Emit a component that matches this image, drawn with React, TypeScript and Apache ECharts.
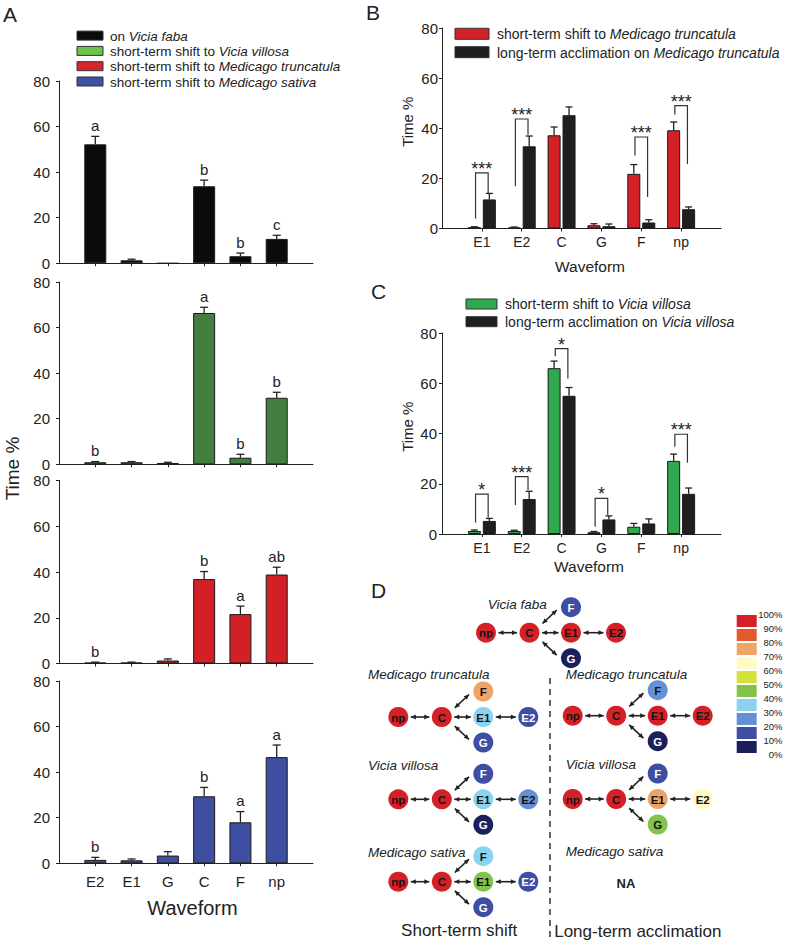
import React, { useEffect, useRef } from 'react';
import * as echarts from 'echarts';

const FONT = '"Liberation Sans", Arial, Helvetica, sans-serif';
const INK = '#222222';

// ---------- Panel A ----------
const aCategories = ['E2', 'E1', 'G', 'C', 'F', 'np'];
const aFabaMean = [52.2, 1.3, 0, 33.8, 3.1, 10.7];
const aFabaErr = [3.5, 0.5, 0, 2.7, 1.4, 1.6];
const aFabaLetters = ['a', '', '', 'b', 'b', 'c'];
const aVillosaMean = [0.9, 0.9, 0.6, 66.4, 2.9, 29.2];
const aVillosaErr = [0.3, 0.3, 0.3, 2.5, 1.5, 2.4];
const aVillosaLetters = ['b', '', '', 'a', 'b', 'b'];
const aTruncMean = [0.4, 0.4, 1.3, 36.9, 21.6, 38.9];
const aTruncErr = [0.2, 0.2, 0.7, 3.3, 3.5, 3.2];
const aTruncLetters = ['b', '', '', 'b', 'a', 'ab'];
const aSativaMean = [1.5, 1.3, 3.4, 29.4, 18.0, 46.6];
const aSativaErr = [1.1, 0.6, 1.7, 3.9, 4.7, 5.3];
const aSativaLetters = ['b', '', '', 'b', 'a', 'a'];
const aLegendPlain = ['on ', 'short-term shift to ', 'short-term shift to ', 'short-term shift to '];
const aLegendItalic = ['Vicia faba', 'Vicia villosa', 'Medicago truncatula', 'Medicago sativa'];

// ---------- Panels B and C ----------
const bcCategories = ['E1', 'E2', 'C', 'G', 'F', 'np'];
const bShortMean = [0.5, 0.4, 37.2, 1.3, 21.8, 39.2];
const bShortErr = [0.2, 0.2, 3.3, 0.6, 3.7, 3.3];
const bLongMean = [11.6, 32.8, 45.2, 0.9, 2.4, 7.7];
const bLongErr = [2.4, 4.1, 3.3, 0.9, 1.1, 0.9];
// [category index, bracket top, left leg bottom, right leg bottom, label]
const bBrackets: any[] = [
  [0, 22.2, 4.0, 14.0, '***'],
  [1, 43.7, 16.9, 37.4, '***'],
  [4, 36.5, 29.1, 12.6, '***'],
  [5, 49.0, 45.5, 25.7, '***'],
];
const cShortMean = [1.2, 1.2, 66.0, 0.7, 2.9, 29.1];
const cShortErr = [0.4, 0.3, 2.8, 0.3, 1.3, 2.7];
const cLongMean = [5.2, 13.9, 55.0, 5.8, 4.2, 16.0];
const cLongErr = [1.0, 3.1, 3.3, 1.4, 1.8, 2.3];
const cBrackets: any[] = [
  [0, 15.9, 4.6, 6.5, '*'],
  [1, 22.8, 11.5, 17.5, '***'],
  [2, 73.8, 70.7, 61.9, '*'],
  [3, 14.2, 2.9, 7.6, '*'],
  [5, 39.7, 34.7, 28.4, '***'],
];
const yTicks = [0, 80, 20]; // min, max, interval

// ---------- Panel D ----------
const dNodes = ['np', 'C', 'E1', 'E2', 'F', 'G'];
const dFaba = [95, 95, 95, 95, 15, 5];
const dTruncShort = [95, 95, 35, 15, 75, 15];
const dTruncLong = [95, 95, 95, 95, 25, 5];
const dVillosaShort = [95, 95, 35, 25, 15, 5];
const dVillosaLong = [95, 95, 75, 65, 15, 45];
const dSativaShort = [95, 95, 45, 15, 35, 15];
const scaleLabels = ['100%', '90%', '80%', '70%', '60%', '50%', '40%', '30%', '20%', '10%', '0%'];
const scaleColors = ['#1b1f5c', '#3e4ea3', '#6690d4', '#8bd4f1', '#84c34a', '#d5e23d', '#fffcc3', '#efa467', '#e05a2b', '#d42027'];

const pad = (arr: any[]) => [null, ...arr, null];
const padCats = (cats: string[]) => ['_s', ...cats, '_e'];

function xAxisCfg(gridIndex: number, cats: string[], showLabels: boolean, fontSize: number, margin: number) {
  return {
    type: 'category', gridIndex, data: padCats(cats), boundaryGap: false,
    axisLine: { show: true, lineStyle: { color: INK, width: 1 } },
    axisTick: { show: true, length: 3, interval: (i: number) => i > 0 && i < cats.length + 1, lineStyle: { color: INK } },
    axisLabel: {
      show: showLabels, interval: 0, fontSize, fontFamily: FONT, color: INK, margin,
      formatter: (v: string) => (v.charAt(0) === '_' ? '' : v),
    },
    splitLine: { show: false },
  };
}
function yAxisCfg(gridIndex: number, fontSize: number, margin: number) {
  return {
    type: 'value', gridIndex, min: yTicks[0], max: yTicks[1], interval: yTicks[2],
    axisLine: { show: true, lineStyle: { color: INK, width: 1 } },
    axisTick: { show: true, length: 3, lineStyle: { color: INK } },
    axisLabel: { fontSize, fontFamily: FONT, color: INK, margin },
    splitLine: { show: false },
  };
}
function barSeries(idx: number, means: number[], color: string, width: number, gap?: string) {
  return {
    type: 'bar', xAxisIndex: idx, yAxisIndex: idx, data: pad(means), barWidth: width,
    barGap: gap || '30%', itemStyle: { color, borderColor: '#1a1a1a', borderWidth: 1 }, z: 2, silent: true,
  };
}
function errSeries(idx: number, means: number[], errs: number[], letters: string[] | null, offset: number, capHalf: number) {
  return {
    type: 'custom', xAxisIndex: idx, yAxisIndex: idx, silent: true, z: 5, clip: false,
    data: means.map((m, i) => [i + 1, m + errs[i]]),
    renderItem: (params: any, api: any) => {
      const i = params.dataIndex;
      const base = api.coord([i + 1, means[i]]);
      const top = api.coord([i + 1, means[i] + errs[i]]);
      const x = base[0] + offset;
      const children: any[] = [];
      if (errs[i] > 0) {
        children.push({ type: 'line', shape: { x1: x, y1: base[1], x2: x, y2: top[1] }, style: { stroke: INK, lineWidth: 1.3, fill: 'none' } });
        children.push({ type: 'line', shape: { x1: x - capHalf, y1: top[1], x2: x + capHalf, y2: top[1] }, style: { stroke: INK, lineWidth: 1.3, fill: 'none' } });
      }
      if (letters && letters[i]) {
        children.push({
          type: 'text', x, y: top[1] - 3.5,
          style: { text: letters[i], fontSize: 15, fontFamily: FONT, fill: INK, align: 'center', verticalAlign: 'bottom' },
        });
      }
      return { type: 'group', children };
    },
  };
}
function bracketSeries(idx: number, brackets: any[], offset: number) {
  return {
    type: 'custom', xAxisIndex: idx, yAxisIndex: idx, silent: true, z: 6, clip: false,
    data: brackets.map((b) => [b[0] + 1, b[1]]),
    renderItem: (params: any, api: any) => {
      const b = brackets[params.dataIndex];
      const t = api.coord([b[0] + 1, b[1]]);
      const yL = api.coord([b[0] + 1, b[2]])[1];
      const yR = api.coord([b[0] + 1, b[3]])[1];
      const xL = t[0] - offset;
      const xR = t[0] + offset;
      return {
        type: 'group',
        children: [
          { type: 'polyline', shape: { points: [[xL, yL], [xL, t[1]], [xR, t[1]], [xR, yR]] }, style: { stroke: '#333', lineWidth: 1.2, fill: 'none' } },
          { type: 'text', x: t[0], y: t[1] - 4, style: { text: b[4], fontSize: 18, fontFamily: FONT, fill: INK, align: 'center', verticalAlign: 'middle' } },
        ],
      };
    },
  };
}

function txt(x: number, y: number, text: string, fontSize: number, extra: any = {}) {
  return {
    type: 'text', x, y, silent: true, rotation: extra.rotation || 0,
    style: {
      text, fontSize, fontFamily: FONT, fill: INK,
      align: extra.align || 'center', verticalAlign: extra.verticalAlign || 'middle',
      fontStyle: extra.fontStyle || 'normal', fontWeight: extra.fontWeight || 'normal',
      lineHeight: extra.lineHeight,
    },
  };
}
function richLegend(x: number, y: number, plain: string, italic: string, fs: number, lh: number) {
  return {
    type: 'text', x, y, silent: true,
    style: {
      text: `{n|${plain}}{i|${italic}}`,
      rich: {
        n: { fontSize: fs, fontFamily: FONT, fill: INK, lineHeight: lh },
        i: { fontSize: fs, fontFamily: FONT, fill: INK, fontStyle: 'italic', lineHeight: lh },
      },
      lineHeight: lh,
      align: 'left', verticalAlign: 'middle',
    },
  };
}
function swatch(x: number, y: number, w: number, h: number, fill: string) {
  return { type: 'rect', silent: true, shape: { x, y, width: w, height: h }, style: { fill, stroke: '#333', lineWidth: 1 } };
}
function arrowEls(x1: number, y1: number, x2: number, y2: number) {
  const dx = x2 - x1, dy = y2 - y1;
  const len = Math.hypot(dx, dy);
  const ux = dx / len, uy = dy / len;
  const nx = -uy, ny = ux;
  const L = 5, W = 2.4;
  const head = (tx: number, ty: number, sx: number, sy: number) => ({
    type: 'polygon', silent: true,
    shape: { points: [[tx, ty], [tx - sx * L + nx * W, ty - sy * L + ny * W], [tx - sx * L - nx * W, ty - sy * L - ny * W]] },
    style: { fill: INK },
  });
  return [
    { type: 'line', silent: true, shape: { x1, y1, x2, y2 }, style: { stroke: INK, lineWidth: 1.6 } },
    head(x2, y2, ux, uy),
    head(x1, y1, -ux, -uy),
  ];
}
const NODE_OFF: Record<string, number[]> = { np: [0, 0], C: [43.5, 0], E1: [85, 0], E2: [130, 0], F: [85, -25.5], G: [85, 25.5] };
function diagram(ox: number, oy: number, levels: number[]) {
  const els: any[] = [];
  const h = (a: number, b: number) => arrowEls(ox + a + 12.5, oy, ox + b - 12.5, oy);
  els.push(...h(0, 43.5), ...h(43.5, 85), ...h(85, 130));
  els.push(...arrowEls(ox + 85 - 28.5, oy - 9.2, ox + 85 - 14.3, oy - 22.5));
  els.push(...arrowEls(ox + 85 - 28.5, oy + 9.2, ox + 85 - 14.3, oy + 22.5));
  dNodes.forEach((n, i) => {
    const bin = Math.min(9, Math.floor(levels[i] / 10));
    const [dx, dy] = NODE_OFF[n];
    els.push({ type: 'circle', silent: true, shape: { cx: ox + dx, cy: oy + dy, r: 10 }, style: { fill: scaleColors[bin] } });
    els.push({
      type: 'text', silent: true, x: ox + dx, y: oy + dy + 0.5,
      style: { text: n, fontSize: 11.5, fontWeight: 'bold', fontFamily: FONT, fill: bin <= 1 ? '#ffffff' : '#141414', align: 'center', verticalAlign: 'middle' },
    });
  });
  return els;
}

function buildOption() {
  const grids = [
    { left: 59, top: 81, width: 254, height: 182.3 },
    { left: 59, top: 282, width: 254, height: 182.3 },
    { left: 59, top: 480.5, width: 254, height: 183 },
    { left: 59, top: 681, width: 254, height: 182.3 },
    { left: 442, top: 28, width: 279, height: 200.5 },
    { left: 442, top: 333, width: 279, height: 201 },
  ].map((g) => ({ ...g, containLabel: false, outerBoundsMode: 'none' }));

  const xAxes = [
    xAxisCfg(0, aCategories, false, 15, 11),
    xAxisCfg(1, aCategories, false, 15, 11),
    xAxisCfg(2, aCategories, false, 15, 11),
    xAxisCfg(3, aCategories, true, 15, 11),
    xAxisCfg(4, bcCategories, true, 14, 6),
    xAxisCfg(5, bcCategories, true, 14, 7),
  ];
  const yAxes = [
    yAxisCfg(0, 15, 9), yAxisCfg(1, 15, 9), yAxisCfg(2, 15, 9), yAxisCfg(3, 15, 9),
    yAxisCfg(4, 15, 4), yAxisCfg(5, 15, 5),
  ];

  const aPanels = [
    { means: aFabaMean, errs: aFabaErr, letters: aFabaLetters, color: '#0b0b0b' },
    { means: aVillosaMean, errs: aVillosaErr, letters: aVillosaLetters, color: '#437d40' },
    { means: aTruncMean, errs: aTruncErr, letters: aTruncLetters, color: '#d32027' },
    { means: aSativaMean, errs: aSativaErr, letters: aSativaLetters, color: '#3e4ea0' },
  ];
  const series: any[] = [];
  aPanels.forEach((p, k) => {
    series.push(barSeries(k, p.means, p.color, 22));
    series.push(errSeries(k, p.means, p.errs, p.letters, 0, 4));
  });
  const OFF = 7.475;
  series.push(barSeries(4, bShortMean, '#d42027', 13, '15%'));
  series.push(barSeries(4, bLongMean, '#1f1f1f', 13, '15%'));
  series.push(errSeries(4, bShortMean, bShortErr, null, -OFF, 3.5));
  series.push(errSeries(4, bLongMean, bLongErr, null, OFF, 3.5));
  series.push(bracketSeries(4, bBrackets, 6.3));
  series.push(barSeries(5, cShortMean, '#2fa84f', 13, '15%'));
  series.push(barSeries(5, cLongMean, '#1f1f1f', 13, '15%'));
  series.push(errSeries(5, cShortMean, cShortErr, null, -OFF, 3.5));
  series.push(errSeries(5, cLongMean, cLongErr, null, OFF, 3.5));
  series.push(bracketSeries(5, cBrackets, 6.3));

  const g: any[] = [];
  // panel letters
  g.push(txt(3, 4, 'A', 21, { align: 'left', verticalAlign: 'top' }));
  g.push(txt(366, 2, 'B', 21, { align: 'left', verticalAlign: 'top' }));
  g.push(txt(371, 280.5, 'C', 21, { align: 'left', verticalAlign: 'top' }));
  g.push(txt(371, 580, 'D', 21, { align: 'left', verticalAlign: 'top' }));

  // A legend
  const aSw = ['#0b0b0b', '#6cc24a', '#d8232a', '#3f51a3'];
  const aRows = [35.6, 50.9, 66.2, 81.5];
  aRows.forEach((y, i) => {
    g.push(swatch(77, y - 4.5, 26, 9, aSw[i]));
    g.push(richLegend(110, y + 0.5, aLegendPlain[i], aLegendItalic[i], 13.5, 13));
  });
  // A axis titles
  g.push(txt(12.5, 468.5, 'Time %', 19, { rotation: Math.PI / 2 }));
  g.push(txt(192.5, 907.5, 'Waveform', 20));

  // B legend and titles
  g.push(swatch(455, 28.3, 34, 11, '#d42027'));
  g.push(richLegend(497, 34, 'short-term shift to ', 'Medicago truncatula', 14, 15));
  g.push(swatch(455, 46.7, 34, 11, '#1f1f1f'));
  g.push(richLegend(497, 52.5, 'long-term acclimation on ', 'Medicago truncatula', 14, 15));
  g.push(txt(407.5, 121.7, 'Time %', 15, { rotation: Math.PI / 2 }));
  g.push(txt(590, 266.7, 'Waveform', 15.5));

  // C legend and titles
  g.push(swatch(466, 299, 31, 10, '#2fa84f'));
  g.push(richLegend(505, 304.3, 'short-term shift to ', 'Vicia villosa', 14, 15));
  g.push(swatch(466, 316.7, 31, 10, '#1f1f1f'));
  g.push(richLegend(505, 321.8, 'long-term acclimation on ', 'Vicia villosa', 14, 15));
  g.push(txt(407.5, 426.7, 'Time %', 15, { rotation: Math.PI / 2 }));
  g.push(txt(589, 566.5, 'Waveform', 15.5));

  // D diagram
  const it = { align: 'left', fontStyle: 'italic' };
  g.push(txt(487.7, 604, 'Vicia faba', 13.5, it));
  g.push(...diagram(486, 632.7, dFaba));
  g.push(txt(368, 674.5, 'Medicago truncatula', 13.5, it));
  g.push(...diagram(398.3, 717, dTruncShort));
  g.push(txt(368, 765, 'Vicia villosa', 13.5, it));
  g.push(...diagram(398.3, 799.3, dVillosaShort));
  g.push(txt(368, 852, 'Medicago sativa', 13.5, it));
  g.push(...diagram(398.3, 881.7, dSativaShort));
  g.push(txt(565.7, 674.5, 'Medicago truncatula', 13.5, it));
  g.push(...diagram(572.7, 715.7, dTruncLong));
  g.push(txt(565.7, 764, 'Vicia villosa', 13.5, it));
  g.push(...diagram(572.7, 799, dVillosaLong));
  g.push(txt(565.7, 851, 'Medicago sativa', 13.5, it));
  g.push(txt(626, 883, 'NA', 13, { fontWeight: 'bold' }));
  g.push({ type: 'line', silent: true, shape: { x1: 550, y1: 678, x2: 550, y2: 941 }, style: { stroke: '#333', lineWidth: 1.5, lineDash: [6, 5] } });
  g.push(txt(459.2, 930, 'Short-term shift', 17));
  g.push(txt(637.8, 931, 'Long-term acclimation', 17));

  // colour scale
  for (let i = 0; i < 10; i++) {
    g.push({ type: 'rect', silent: true, shape: { x: 736.7, y: 615 + 14 * i, width: 20, height: 12 }, style: { fill: scaleColors[9 - i] } });
  }
  scaleLabels.forEach((s, j) => {
    g.push(txt(782.5, 614.3 + 14 * j, s, 9.5, { align: 'right', lineHeight: 11 }));
  });

  return {
    animation: false,
    backgroundColor: '#ffffff',
    textStyle: { fontFamily: FONT },
    grid: grids,
    xAxis: xAxes,
    yAxis: yAxes,
    series,
    graphic: { elements: g },
  };
}

export default function App() {
  const ref = useRef<HTMLDivElement>(null);
  useEffect(() => {
    if (!ref.current) return;
    const chart = echarts.init(ref.current, null, { renderer: 'svg' });
    chart.setOption(buildOption() as any);
    return () => chart.dispose();
  }, []);
  return (
    <div
      ref={ref}
      style={{ position: 'absolute', left: 0, top: 0, width: 787, height: 941, background: '#fff' }}
    />
  );
}
